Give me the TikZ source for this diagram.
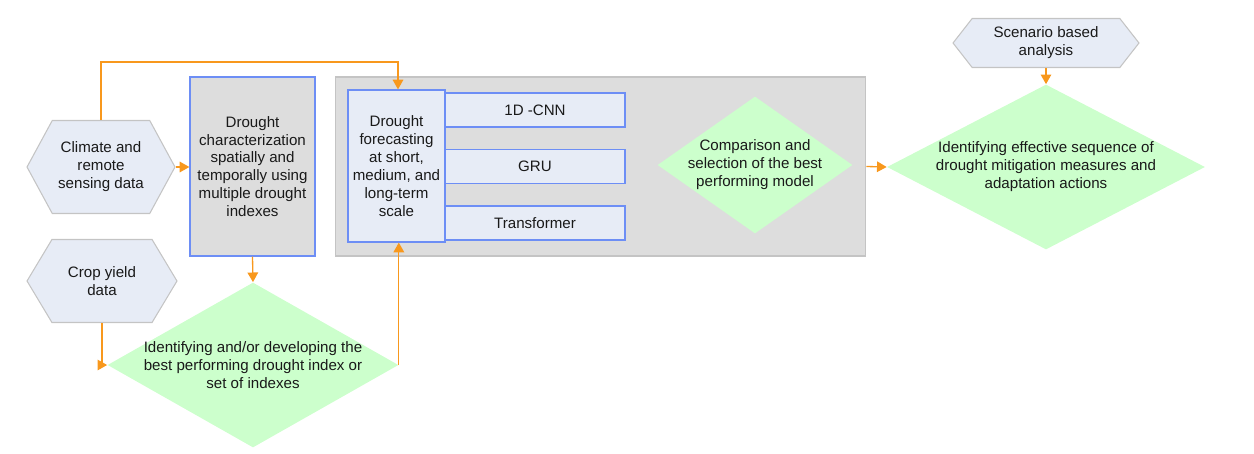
\documentclass[tikz,border=0pt]{standalone}
\usepackage{fontspec}
\setmainfont{Liberation Sans}
\usepackage{xcolor}
\usepackage{tikz}
\usetikzlibrary{shapes.geometric,shapes.symbols,arrows.meta}

\definecolor{arroworange}{HTML}{F8981D}
\definecolor{hexfill}{HTML}{E7ECF6}
\definecolor{hexline}{HTML}{C4C4C4}
\definecolor{boxgrey}{HTML}{DDDDDD}
\definecolor{boxblue}{HTML}{6D8EF5}
\definecolor{diafill}{HTML}{CCFFCC}

\begin{document}
\begin{tikzpicture}[x=0.02cm,y=-0.02cm,
  every node/.style={font=\fontsize{8.6}{10.2}\selectfont, text=black!90, align=center},
  hexnode/.style={shape=signal, signal to=west and east, fill=hexfill, draw=hexline, line width=0.6pt, inner sep=0pt},
  bluebox/.style={rectangle, draw=boxblue, line width=0.7pt, inner sep=0pt},
  greybox/.style={rectangle, fill=boxgrey, draw=hexline, line width=0.6pt, inner sep=0pt},
  diabox/.style={diamond, fill=diafill, draw=none, inner sep=0pt},
  arr/.style={draw=arroworange, line width=0.75pt, -{Triangle[width=6pt,length=5.5pt]}}]
\useasboundingbox (0,0) rectangle (1254,453);

\node[hexnode, signal pointer angle=123, minimum width=2.96cm, minimum height=1.86cm] (clim) at (101,167) {Climate and\\remote\\sensing data};
\node[hexnode, signal pointer angle=118, minimum width=3.0cm, minimum height=1.66cm] (crop) at (102,281) {Crop yield\\data};
\node[hexnode, signal pointer angle=104, minimum width=3.72cm, minimum height=0.98cm] (scen) at (1046,43) {Scenario based\\analysis};

\node[bluebox, fill=boxgrey, minimum width=2.5cm, minimum height=3.58cm] (char) at (252.5,166.5) {Drought\\characterization\\spatially and\\temporally using\\multiple drought\\indexes};

\node[greybox, minimum width=10.62cm, minimum height=3.58cm] (stage) at (600.5,166.5) {};
\node[bluebox, fill=hexfill, minimum width=1.94cm, minimum height=3.04cm] (fc) at (396.5,166) {Drought\\forecasting\\at short,\\medium, and\\long-term\\scale};
\node[bluebox, fill=hexfill, minimum width=3.6cm, minimum height=0.68cm] (cnn) at (535,110) {1D -CNN};
\node[bluebox, fill=hexfill, minimum width=3.6cm, minimum height=0.68cm] (gru) at (535,166.5) {GRU};
\node[bluebox, fill=hexfill, minimum width=3.6cm, minimum height=0.68cm] (trf) at (535,223) {Transformer};

\node[diabox, minimum width=3.9cm, minimum height=2.74cm] (comp) at (755,165) {};
\node (compt) at (comp) {Comparison and\\selection of the best\\performing model};

\node[diabox, minimum width=5.82cm, minimum height=3.3cm] (idx) at (253,365) {};
\node (idxt) at (idx) {Identifying and/or developing the\\best performing drought index or\\set of indexes};

\node[diabox, minimum width=6.36cm, minimum height=3.3cm] (mitig) at (1046,167) {};
\node (mitigt) at (mitig) {Identifying effective sequence of\\drought mitigation measures and\\adaptation actions};

\coordinate (over) at (398,62);
\draw[arr] (clim.north) |- (over) -- (over |- fc.north);
\draw[arr] (clim.east) -- (char.west |- clim.east);
\draw[arr] (char.south) -- (idx.north);
\draw[arr] (crop.south) |- (idx.west);
\draw[arr] (idx.east) -- (idx.east |- fc.south);
\draw[arr] (stage.east) -- (mitig.west);
\draw[arr] (scen.south) -- (mitig.north);

\end{tikzpicture}
\end{document}
